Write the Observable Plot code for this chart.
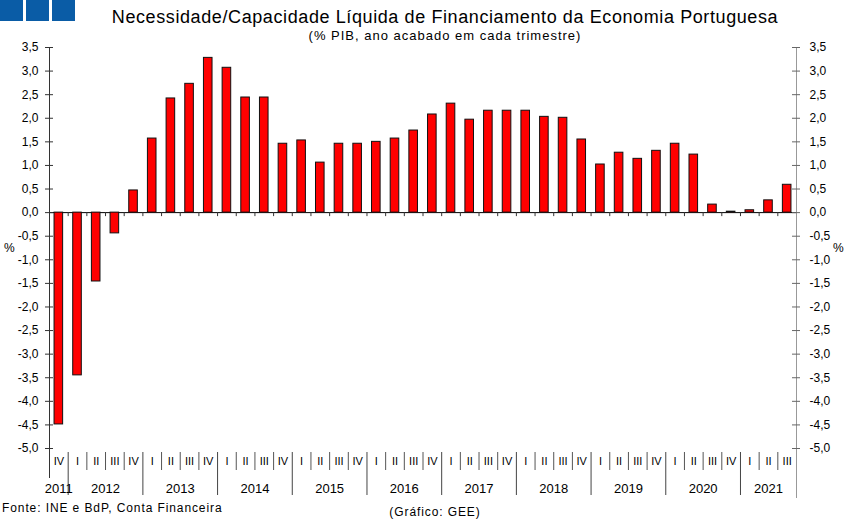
<!DOCTYPE html>
<html>
<head>
<meta charset="utf-8">
<script src="https://cdn.jsdelivr.net/npm/d3@7"></script>
<script src="https://cdn.jsdelivr.net/npm/@observablehq/plot@0.6"></script>
<style>
  html, body { margin: 0; padding: 0; background: #fff; }
  #wrap { position: relative; width: 850px; height: 519px; font-family: "Liberation Sans", Arial, sans-serif; }
  .logo { position: absolute; top: 0; width: 23px; height: 21px; background: #0a5ca6; }
  .t { position: absolute; white-space: nowrap; color: #000; }
</style>
</head>
<body>
<div id="wrap">
  <div class="logo" style="left:0px"></div>
  <div class="logo" style="left:26px"></div>
  <div class="logo" style="left:52px"></div>
  <div class="t" id="title" style="left:0; width:890px; text-align:center; top:7px; font-size:18px; letter-spacing:0.6px;">Necessidade/Capacidade Líquida de Financiamento da Economia Portuguesa</div>
  <div class="t" id="subtitle" style="left:0; width:890px; text-align:center; top:28px; font-size:13px; letter-spacing:1px;">(% PIB, ano acabado em cada trimestre)</div>
  <div class="t" style="left:4px; top:241px; font-size:12px;">%</div>
  <div class="t" style="left:833px; top:241px; font-size:12px;">%</div>
  <div class="t" style="left:2px; top:501px; font-size:12px; letter-spacing:0.9px;">Fonte: INE e BdP, Conta Financeira</div>
  <div class="t" style="left:0; width:870px; text-align:center; top:505px; font-size:12px; letter-spacing:0.9px;">(Gráfico: GEE)</div>
  <div id="chart"></div>
</div>
<script>
// Data: 2011 Q4 to 2021 Q3
const years = ["2011","2012","2013","2014","2015","2016","2017","2018","2019","2020","2021"];
const quarterNames = ["I","II","III","IV"];
const firstQuarter = 3; // 2011 Q IV
const values = [
  -4.49,
  -3.45, -1.46, -0.44, 0.47,
  1.57, 2.42, 2.73, 3.28,
  3.07, 2.44, 2.44, 1.46,
  1.53, 1.06, 1.46, 1.46,
  1.50, 1.57, 1.74, 2.08,
  2.31, 1.97, 2.16, 2.16,
  2.16, 2.03, 2.01, 1.55,
  1.02, 1.27, 1.14, 1.31,
  1.46, 1.23, 0.17, 0.02,
  0.05, 0.26, 0.59
];
const yTicks = [-5,-4.5,-4,-3.5,-3,-2.5,-2,-1.5,-1,-0.5,0,0.5,1,1.5,2,2.5,3,3.5];

const data = values.map((v, i) => ({
  i,
  value: v,
  quarter: quarterNames[(firstQuarter + i) % 4],
  year: years[Math.floor((firstQuarter + i) / 4)]
}));
const n = data.length;
const bounds = d3.range(1, n);
const yearBounds = bounds.filter(b => data[b].year !== data[b - 1].year);
const quarterBounds = bounds.filter(b => data[b].year === data[b - 1].year);
const yearCenters = years.map(y => {
  const idx = data.filter(d => d.year === y).map(d => d.i);
  return {year: y, x: (d3.min(idx) + d3.max(idx) + 1) / 2};
});
const fmt = d => d.toFixed(1).replace(".", ",");

const chart = Plot.plot({
  width: 850,
  height: 519,
  marginLeft: 49,
  marginRight: 54,
  marginTop: 47,
  marginBottom: 71,
  style: {fontFamily: '"Liberation Sans", Arial, sans-serif', fontSize: "12px", background: "white", color: "black"},
  x: {type: "linear", domain: [0, n], axis: null},
  y: {type: "linear", domain: [-5, 3.5], axis: null},
  marks: [
    // zero line and its small ticks
    Plot.ruleY([0], {stroke: "black"}),
    Plot.ruleX(bounds, {x: d => d, y1: 0, y2: 0, insetBottom: -4, stroke: "#333"}),
    // bars
    Plot.rectY(data, {x1: d => d.i + 0.27, x2: d => d.i + 0.73, y1: 0, y2: "value", fill: "#ff0000", stroke: "#111", strokeWidth: 1}),
    // left axis
    Plot.ruleX([0], {x: d => d, y1: 3.5, y2: -5, insetBottom: -30, stroke: "#333"}),
    Plot.ruleY(yTicks, {y: d => d, x1: 0, x2: 0, insetLeft: -4, insetRight: -4, stroke: "#333"}),
    Plot.text(yTicks, {x: 0, y: d => d, text: fmt, textAnchor: "end", dx: -11, fill: "black"}),
    // right axis
    Plot.ruleX([n], {x: d => d, y1: 3.5, y2: -5, insetBottom: -50, stroke: "#999"}),
    Plot.ruleY(yTicks, {y: d => d, x1: n, x2: n, insetLeft: -4, insetRight: -4, stroke: "#666"}),
    Plot.text(yTicks, {x: n, y: d => d, text: fmt, textAnchor: "start", dx: 13, fill: "black"}),
    // category table below
    Plot.ruleX(quarterBounds, {x: d => d, y1: -5, y2: -5, insetTop: 4, insetBottom: -22, stroke: "#555"}),
    Plot.ruleX(yearBounds, {x: d => d, y1: -5, y2: -5, insetTop: 4, insetBottom: -47, stroke: "#444"}),
    Plot.text(data, {x: d => d.i + 0.5, y: -5, text: "quarter", dy: 13, fill: "black", fontSize: 11}),
    Plot.text(yearCenters, {x: "x", y: -5, text: "year", dy: 40, fill: "black", fontSize: 13})
  ]
});
document.getElementById("chart").appendChild(chart);
</script>
</body>
</html>
